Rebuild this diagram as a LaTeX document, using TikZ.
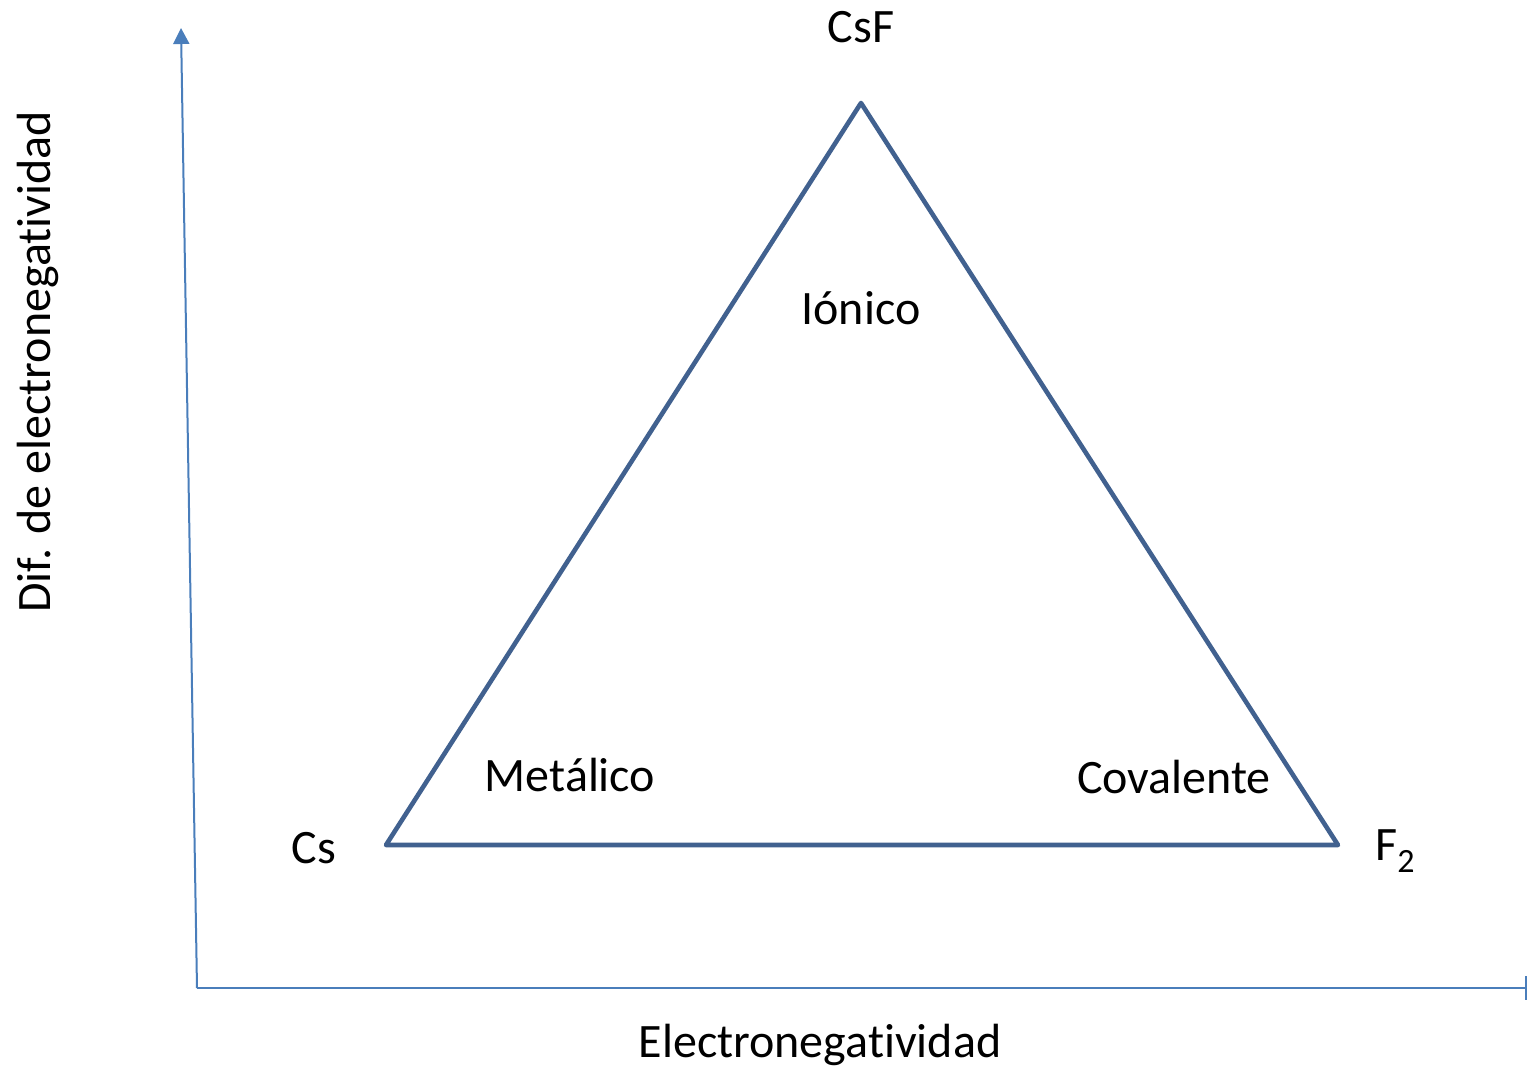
\documentclass[tikz,border=0pt]{standalone}
\usepackage{fontspec}
\setmainfont{Carlito}[Ligatures={NoCommon}]
\usetikzlibrary{arrows.meta,positioning,calc}
\definecolor{axisblue}{RGB}{74,126,187}
\definecolor{triblue}{RGB}{65,97,143}
\tikzset{
  axis/.style={draw=axisblue, line width=1pt},
  lbl/.style={font=\fontsize{24}{28}\selectfont, inner sep=0pt},
}
\begin{document}
\begin{tikzpicture}[x=0.5pt,y=-0.5pt]
    \useasboundingbox (0,0) rectangle (1528,1069);
    % axes
    \coordinate (o) at (197,988);
    \coordinate (ytop) at (181,28);
    \coordinate (xend) at (1527,988);
    \draw [axis, -{Triangle[length=8pt,width=8pt]}] (o) -- (ytop);
    \draw [axis, -{Bar[width=12pt]}] (o) -- (xend);
    % triangle
    \coordinate (cs) at (386,845);
    \coordinate (csf) at (861,103);
    \coordinate (f2) at (1338,845);
    \draw [triblue, line width=2.3pt, line join=round] (cs) -- (csf) -- (f2) -- cycle;
    % labels
    \node [lbl] (csfl) at (861,27) {CsF};
    \node [lbl] (ionico) at (861,308) {Iónico};
    \node [lbl] (metal) at (570,775) {Metálico};
    \node [lbl] (coval) at (1174,777) {Covalente};
    \node [lbl] (csl) at (314,848) {Cs};
    \node [lbl, anchor=west] (f2l) at (1375,851) {F\raisebox{-0.55ex}{\fontsize{17}{19}\selectfont 2}};
    \node [lbl] (xlab) at (820,1045) {Electronegatividad};
    \node [lbl, rotate=90] (ylab) at (38,362) {Dif. de electronegatividad};
\end{tikzpicture}
\end{document}
